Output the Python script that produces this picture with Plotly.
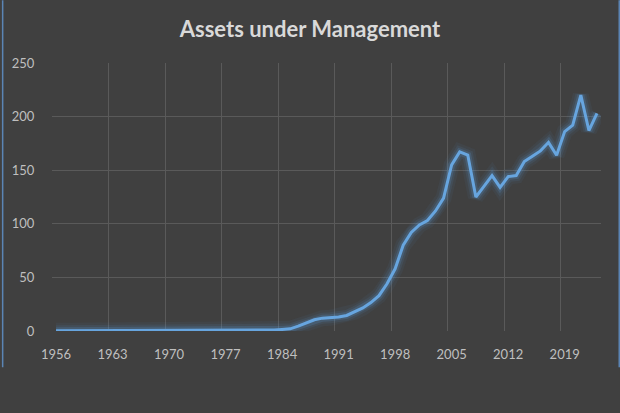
import plotly.graph_objects as go

years = list(range(1956, 2024))
aum = ([0.3] * 12 +                      # 1956-1967
       [1.0] * 16 +                      # 1968-1983
       [1.5, 2.0, 4.5, 7.5, 10.5, 12.0, 12.3, 13.0, 14.5, 18.0,   # 1984-1993
        21.5, 26.5, 33.0, 44.0, 58.0, 80.0, 92.0, 99.0, 103.0, 112.0,  # 1994-2003
        124.0, 155.0, 167.0, 164.0, 125.0, 135.0, 145.0, 134.0, 144.0, 145.0,  # 2004-2013
        158.0, 163.0, 168.0, 176.0, 164.0, 186.0, 192.0, 220.0, 187.0, 203.0])  # 2014-2023
cats = [str(y) for y in years]
title_text = "Assets under Management"

BG = "#404040"
LINE = "#67a5df"
GRID = "#5a5a5a"
FONT = "Lato"

fig = go.Figure()
for w, a in [(16, 0.06), (11, 0.10), (7, 0.20)]:
    fig.add_trace(go.Scatter(x=cats, y=aum, mode="lines",
                             line=dict(color=f"rgba(91,155,213,{a})", width=w),
                             hoverinfo="skip", showlegend=False))
fig.add_trace(go.Scatter(x=cats, y=aum, mode="lines",
                         line=dict(color=LINE, width=3), showlegend=False))

L, R, T, B = 50, 19.3, 62.7, 82.3
pw = 620 - L - R
ph = 413 - T - B

def px_x(px):
    return (px - L) / pw

def px_y(py):
    return (413 - B - py) / ph

fig.update_layout(
    width=620, height=413,
    paper_bgcolor=BG, plot_bgcolor=BG,
    margin=dict(l=L, r=R, t=T, b=B),
    title=dict(text=f"<b>{title_text}</b>", x=0.5, xanchor="center",
               y=1 - 29 / 413, yanchor="middle",
               font=dict(family=FONT, size=22, color="#d9d9d9")),
    xaxis=dict(type="category", tickmode="linear", tick0=0, dtick=7,
               tickson="boundaries", showgrid=True, gridcolor=GRID, gridwidth=1,
               ticks="", ticklabelstandoff=14,
               tickangle=0,
               showline=False, zeroline=False, range=[-0.5, len(cats) - 0.5],
               tickfont=dict(family=FONT, size=13, color="#bfbfbf")),
    yaxis=dict(range=[0, 250], tickvals=[0, 50, 100, 150, 200, 250],
               showgrid=True, gridcolor=GRID, gridwidth=1, zeroline=False,
               ticks="outside", ticklen=14, tickcolor="rgba(0,0,0,0)",
               showline=False,
               tickfont=dict(family=FONT, size=13, color="#bfbfbf")),
    shapes=[
        dict(type="line", xref="paper", yref="paper",
             x0=px_x(0.5), x1=px_x(0.5), y0=px_y(0), y1=px_y(367),
             line=dict(color="#5b85b5", width=1.5)),
        dict(type="line", xref="paper", yref="paper",
             x0=px_x(619), x1=px_x(619), y0=px_y(0), y1=px_y(367),
             line=dict(color="#5b85b5", width=1.5)),
    ],
)

fig.write_html("out.html")
